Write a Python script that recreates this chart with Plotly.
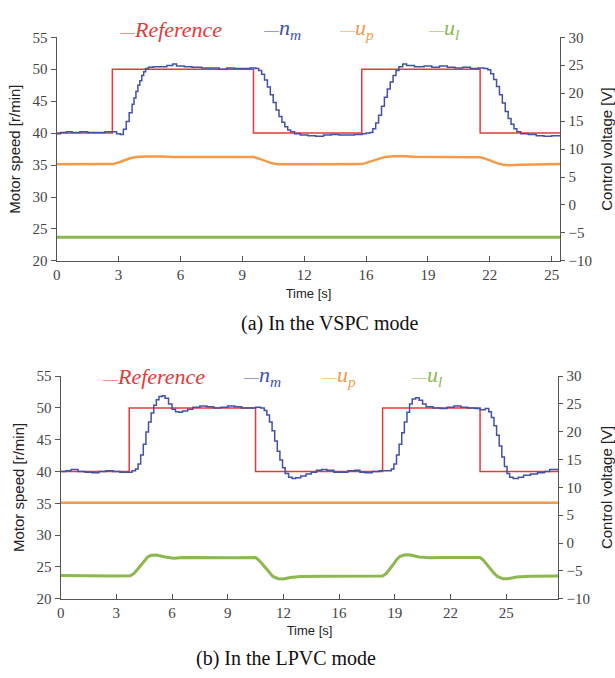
import plotly.graph_objects as go
from plotly.subplots import make_subplots

# ---------------- data ----------------
tick_labels = ["0", "3", "6", "9", "12", "16", "19", "22", "25"]
tick_step = 3.2  # seconds between category ticks

# (a) VSPC mode
a_ref_t = [0.0, 2.88, 2.88, 10.18, 10.18, 15.78, 15.78, 21.9, 21.9, 26.05]
a_ref_v = [40, 40, 50, 50, 40, 40, 50, 50, 40, 40]

a_nm_t = [0.0, 0.2, 0.5, 0.8, 1.2, 1.6, 2.0, 2.5, 2.9, 3.1, 3.3, 3.45, 3.6, 3.75,
          3.9, 4.0, 4.1, 4.2, 4.3, 4.4, 4.5, 4.6, 4.75, 5.0, 5.4, 5.7, 6.0, 6.2,
          6.6, 7.0, 7.5, 8.0, 8.4, 8.8, 9.2, 9.6, 10.0, 10.3, 10.45, 10.6, 10.75,
          10.9, 11.05, 11.2, 11.35, 11.5, 11.65, 11.8, 11.95, 12.1, 12.3, 12.6,
          13.0, 13.4, 13.8, 14.2, 14.6, 15.0, 15.4, 15.8, 16.0, 16.2, 16.35, 16.5,
          16.65, 16.8, 16.95, 17.1, 17.25, 17.4, 17.55, 17.7, 17.9, 18.1, 18.5,
          19.0, 19.4, 19.8, 20.2, 20.6, 21.0, 21.4, 21.8, 22.1, 22.3, 22.45, 22.6,
          22.75, 22.9, 23.05, 23.2, 23.35, 23.5, 23.65, 23.8, 24.0, 24.4, 24.8,
          25.2, 25.6, 26.05]
a_nm_v = [39.9, 40.1, 40.2, 40.1, 40.2, 40.1, 40.1, 40.2, 40.2, 39.9, 39.8, 40.6,
          41.8, 43.2, 44.5, 45.5, 46.5, 47.5, 48.2, 49.0, 49.6, 50.1, 50.3, 50.4,
          50.4, 50.6, 50.8, 50.5, 50.4, 50.3, 50.2, 50.2, 50.0, 50.2, 50.1, 50.1,
          50.2, 50.1, 49.8, 49.2, 48.3, 47.2, 46.0, 44.8, 43.6, 42.6, 41.7, 41.0,
          40.5, 40.2, 39.9, 39.7, 39.6, 39.5, 39.7, 39.8, 39.7, 39.7, 39.8, 39.9,
          40.0, 40.1, 40.7, 41.6, 42.8, 44.2, 45.6, 46.9, 48.0, 49.0, 49.8, 50.4,
          50.8, 50.6, 50.4, 50.5, 50.3, 50.5, 50.3, 50.2, 50.3, 50.1, 50.2, 50.1,
          49.9, 49.3, 48.4, 47.3, 46.0, 44.7, 43.4, 42.3, 41.4, 40.7, 40.2, 39.9,
          39.8, 39.6, 39.5, 39.6, 39.6]

a_up_t = [0.0, 2.9, 3.2, 3.5, 3.8, 4.1, 4.6, 5.5, 6.0, 8.0, 10.2, 10.5, 10.8,
          11.1, 11.4, 12.0, 14.0, 15.8, 16.1, 16.4, 16.7, 17.0, 17.4, 18.0, 18.5,
          20.0, 21.9, 22.2, 22.5, 22.8, 23.1, 23.4, 24.0, 25.0, 26.05]
a_up_v = [7.3, 7.31, 7.6, 8.0, 8.35, 8.6, 8.69, 8.68, 8.6, 8.58, 8.57, 8.25, 7.85,
          7.5, 7.3, 7.27, 7.3, 7.32, 7.6, 7.95, 8.3, 8.6, 8.74, 8.72, 8.62, 8.6,
          8.55, 8.25, 7.85, 7.45, 7.2, 7.13, 7.22, 7.3, 7.35]

a_ul_t = [0.0, 26.05]
a_ul_v = [-5.75, -5.75]

# (b) LPVC mode
b_ref_t = [0.0, 3.94, 3.94, 11.2, 11.2, 18.5, 18.5, 24.1, 24.1, 28.6]
b_ref_v = [40, 40, 50, 50, 40, 40, 50, 50, 40, 40]

b_nm_t = [0.0, 0.3, 0.6, 1.0, 1.4, 1.8, 2.2, 2.6, 3.0, 3.4, 3.8, 4.1, 4.3, 4.45,
          4.6, 4.75, 4.9, 5.05, 5.2, 5.35, 5.5, 5.65, 5.85, 6.0, 6.2, 6.4, 6.6,
          6.8, 7.0, 7.3, 7.6, 8.0, 8.4, 8.8, 9.2, 9.6, 10.0, 10.4, 10.8, 11.2,
          11.5, 11.7, 11.85, 12.0, 12.15, 12.3, 12.45, 12.6, 12.75, 12.9, 13.1,
          13.3, 13.5, 13.8, 14.1, 14.4, 14.7, 15.0, 15.3, 15.7, 16.1, 16.5, 16.9,
          17.2, 17.5, 17.9, 18.3, 18.7, 19.0, 19.15, 19.3, 19.45, 19.6, 19.75,
          19.9, 20.05, 20.2, 20.4, 20.6, 20.8, 21.0, 21.4, 21.8, 22.2, 22.6, 23.0,
          23.4, 23.8, 24.1, 24.4, 24.6, 24.75, 24.9, 25.05, 25.2, 25.35, 25.5,
          25.65, 25.8, 26.0, 26.3, 26.6, 27.0, 27.4, 27.8, 28.1, 28.4, 28.6]
b_nm_v = [40.0, 40.1, 40.3, 40.0, 39.9, 39.8, 40.0, 40.1, 40.0, 39.9, 39.9, 40.1,
          40.4, 41.2, 42.6, 44.3, 46.2, 47.8, 49.2, 50.4, 51.3, 51.8, 51.9, 51.5,
          50.6, 49.8, 49.4, 49.3, 49.5, 49.8, 50.1, 50.3, 50.2, 50.0, 50.1, 50.3,
          50.2, 50.0, 50.0, 50.1, 50.0, 49.6, 48.9, 47.8, 46.4, 44.8, 43.2, 41.8,
          40.6, 39.7, 39.1, 38.9, 39.0, 39.3, 39.6, 39.9, 40.2, 40.3, 40.2, 39.9,
          39.9, 40.1, 40.2, 39.9, 39.8, 40.0, 40.1, 40.1, 40.4, 41.2, 42.6, 44.3,
          46.1, 47.8, 49.3, 50.6, 51.4, 51.6, 51.2, 50.6, 50.2, 50.0, 49.9, 50.1,
          50.3, 50.1, 50.0, 49.9, 49.7, 49.9, 49.4, 48.5, 47.2, 45.7, 44.0, 42.3,
          40.8, 39.7, 39.1, 38.9, 39.1, 39.4, 39.6, 39.8, 40.0, 40.3, 40.3, 40.1]

b_up_t = [0.0, 28.6]
b_up_v = [7.26, 7.26]

b_ul_t = [0.0, 1.0, 2.0, 3.0, 4.0, 4.2, 4.4, 4.6, 4.8, 5.0, 5.2, 5.5, 6.0, 6.5,
          7.0, 8.0, 9.0, 10.0, 11.2, 11.4, 11.6, 11.8, 12.0, 12.2, 12.5, 12.8,
          13.2, 13.8, 15.0, 16.5, 18.5, 18.7, 18.9, 19.1, 19.3, 19.5, 19.8, 20.1,
          20.6, 21.2, 22.0, 23.0, 24.1, 24.3, 24.5, 24.7, 24.9, 25.1, 25.4, 25.7,
          26.2, 27.0, 28.0, 28.6]
b_ul_v = [-5.85, -5.9, -5.92, -5.9, -5.88, -5.5, -4.8, -4.0, -3.2, -2.5, -2.2,
          -2.15, -2.5, -2.72, -2.6, -2.65, -2.6, -2.62, -2.6, -3.1, -3.8, -4.6,
          -5.4, -6.0, -6.4, -6.45, -6.2, -6.0, -5.95, -5.9, -5.92, -5.5, -4.8,
          -3.9, -3.0, -2.4, -2.1, -2.15, -2.5, -2.65, -2.6, -2.6, -2.6, -3.1, -3.9,
          -4.7, -5.4, -6.0, -6.4, -6.4, -6.1, -5.95, -5.9, -5.92]

# ---------------- styles ----------------
RED = "#e8383a"
BLUE = "#4152a8"
ORANGE = "#f59a4a"
GREEN = "#8cb84f"
AXIS = "#555555"
SERIF = "Liberation Serif"
SANS = "Liberation Sans"

fig = make_subplots(rows=2, cols=1, specs=[[{"secondary_y": True}], [{"secondary_y": True}]])

panels = [
    (1, a_ref_t, a_ref_v, a_nm_t, a_nm_v, a_up_t, a_up_v, a_ul_t, a_ul_v),
    (2, b_ref_t, b_ref_v, b_nm_t, b_nm_v, b_up_t, b_up_v, b_ul_t, b_ul_v),
]
for row, rt, rv, nt, nv, pt, pv, lt, lv in panels:
    fig.add_trace(go.Scatter(x=lt, y=lv, mode="lines", line=dict(color=GREEN, width=3),
                             showlegend=False), row=row, col=1, secondary_y=True)
    fig.add_trace(go.Scatter(x=pt, y=pv, mode="lines", line=dict(color=ORANGE, width=2.5),
                             showlegend=False), row=row, col=1, secondary_y=True)
    fig.add_trace(go.Scatter(x=rt, y=rv, mode="lines", line=dict(color=RED, width=1.5),
                             showlegend=False), row=row, col=1, secondary_y=False)
    fig.add_trace(go.Scatter(x=nt, y=nv, mode="lines", line=dict(color=BLUE, width=1.5, shape="hv"),
                             showlegend=False), row=row, col=1, secondary_y=False)

tickvals = [i * tick_step for i in range(len(tick_labels))]
tickfont = dict(family=SERIF, size=15, color="#444444")
common_x = dict(showline=True, linecolor=AXIS, linewidth=1.2, ticks="inside", ticklen=5,
                tickcolor=AXIS, showgrid=False, zeroline=False, tickvals=tickvals,
                ticktext=tick_labels, tickfont=tickfont,
                title=dict(text="Time [s]", font=dict(family=SANS, size=13, color="#222"),
                           standoff=6))
common_yl = dict(showline=True, linecolor=AXIS, linewidth=1.2, ticks="outside", ticklen=5,
                 tickcolor=AXIS, showgrid=False, zeroline=False, range=[20, 55], dtick=5,
                 tickfont=tickfont,
                 title=dict(text="Motor speed [r/min]", font=dict(family=SANS, size=15, color="#222"),
                            standoff=8))
common_yr = dict(showline=True, linecolor=AXIS, linewidth=1.2, ticks="outside", ticklen=4,
                 tickcolor=AXIS, showgrid=False, zeroline=False, range=[-10, 30], dtick=5,
                 tickfont=tickfont,
                 title=dict(text="Control voltage [V]", font=dict(family=SANS, size=15, color="#222"),
                            standoff=12))

W, H = 615, 678


def px_x(p):
    return p / W


def px_y(p):
    return 1 - p / H


fig.update_layout(
    xaxis=dict(common_x, domain=[px_x(53), px_x(560)], range=[0, 26.05]),
    yaxis=dict(common_yl, domain=[px_y(259), px_y(30)]),
    yaxis2=dict(common_yr),
    xaxis2=dict(common_x, domain=[px_x(57), px_x(558)], range=[0, 28.6]),
    yaxis3=dict(common_yl, domain=[px_y(605), px_y(377)]),
    yaxis4=dict(common_yr),
)

# legend rows and captions
legend_items = [
    ("Reference", RED, "<i>Reference</i>"),
    ("n_m", BLUE, "<i>n<sub>m</sub></i>"),
    ("u_p", ORANGE, "<i>u<sub>p</sub></i>"),
    ("u_l", GREEN, "<i>u<sub>l</sub></i>"),
]
legend_rows = [
    (22, [114, 259, 335, 425]),
    (377, [97, 239, 317, 408]),
]
annotations = []
for ly, xs in legend_rows:
    for (key, color, label), lx in zip(legend_items, xs):
        annotations.append(dict(
            xref="paper", yref="paper", x=px_x(lx), y=px_y(ly), xanchor="left", yanchor="middle",
            showarrow=False,
            text=f'<span style="font-size:15px">—</span>{label}',
            font=dict(family=SERIF, size=22, color=color)))

captions = [("(a) In the VSPC mode", 328, 323), ("(b) In the LPVC mode", 284, 666)]
for text, cx, cy in captions:
    annotations.append(dict(xref="paper", yref="paper", x=px_x(cx), y=px_y(cy),
                            xanchor="center", yanchor="middle", showarrow=False, text=text,
                            font=dict(family=SERIF, size=20, color="#111")))

fig.update_layout(
    width=W, height=H, autosize=False,
    margin=dict(l=0, r=0, t=0, b=0),
    paper_bgcolor="white", plot_bgcolor="white",
    showlegend=False,
    annotations=annotations,
)

fig.write_html("out.html")
